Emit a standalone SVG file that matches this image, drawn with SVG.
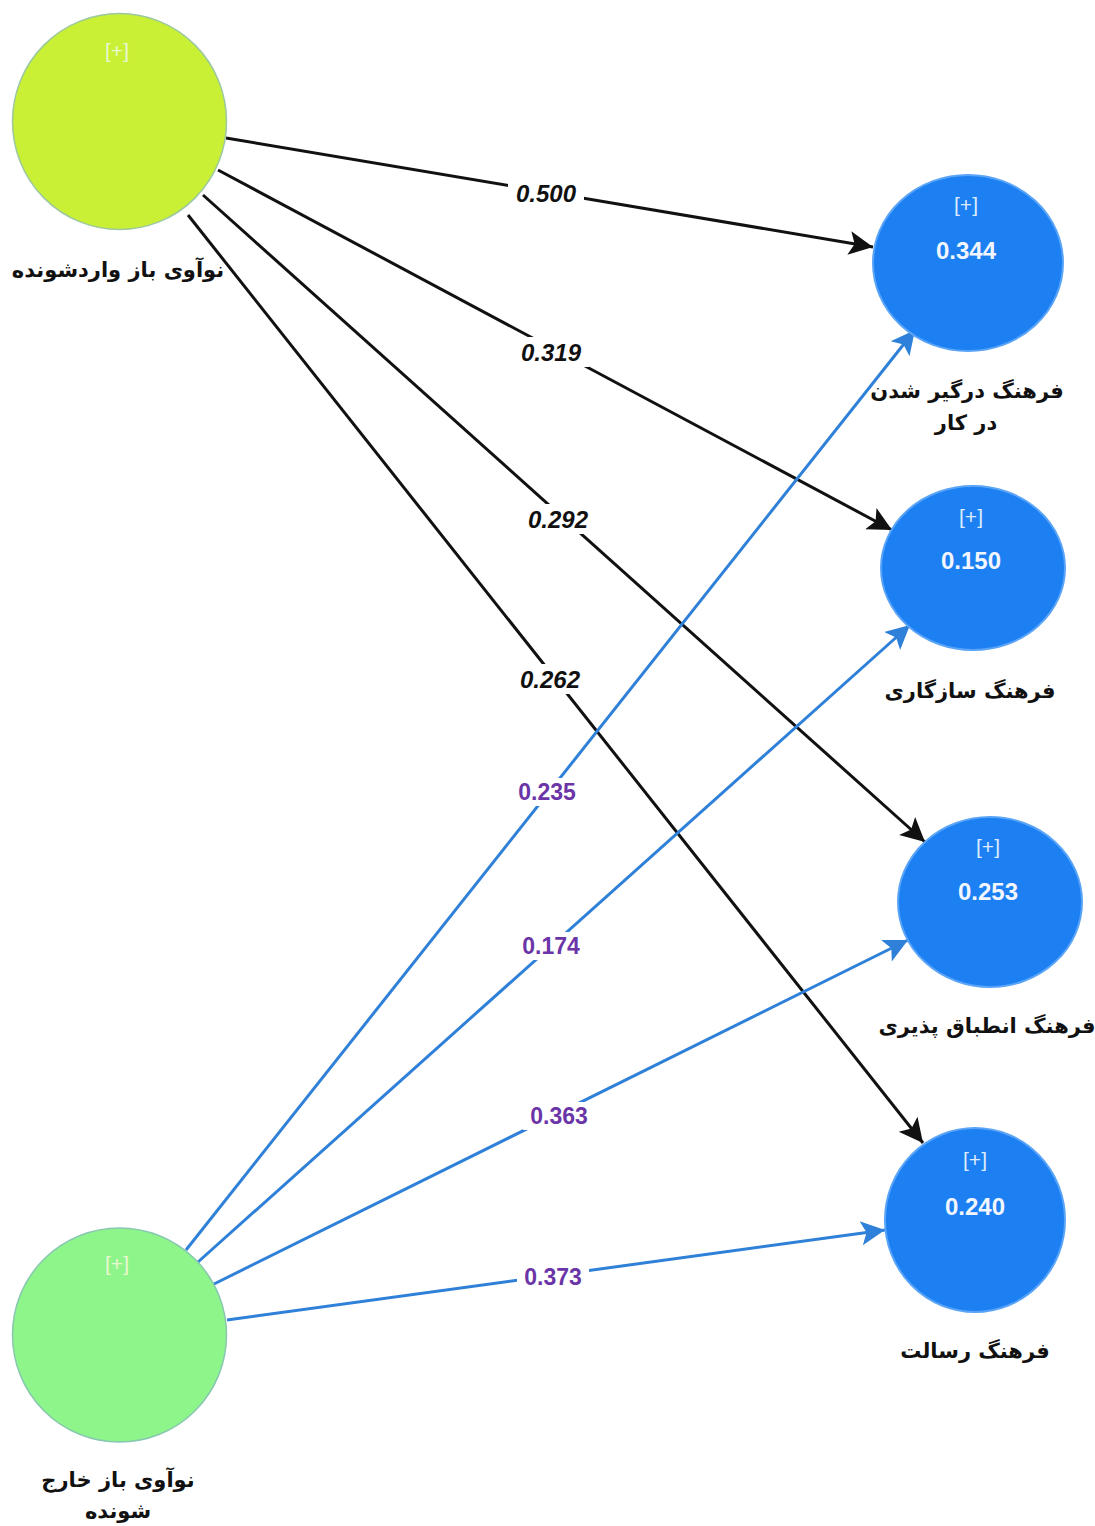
<svg xmlns="http://www.w3.org/2000/svg" width="1095" height="1526" viewBox="0 0 1095 1526">
<defs>
<style>
.blk{stroke:#111;stroke-width:3;fill:none}
.blu{stroke:#2f80d8;stroke-width:3;fill:none}
.lb{font-family:"DejaVu Sans",sans-serif;font-weight:bold;font-size:21px;fill:#111;text-anchor:middle}
.plus{font-family:"Liberation Sans",sans-serif;font-size:21px;fill:#dcebff;text-anchor:middle}
.pluss{font-family:"Liberation Sans",sans-serif;font-size:21px;fill:#eaf8d0;text-anchor:middle}
.val{font-family:"Liberation Sans",sans-serif;font-weight:bold;font-size:24px;fill:#f2f6ff;text-anchor:middle}
.bk{font-family:"Liberation Sans",sans-serif;font-weight:bold;font-style:italic;font-size:24px;fill:#111;text-anchor:middle}
.pu{font-family:"Liberation Sans",sans-serif;font-weight:bold;font-size:23px;fill:#6b35a8;text-anchor:middle}
.bg{fill:#fff}
.rn{fill:#1c7ff2;stroke:#5aa4f8;stroke-width:2}
</style>
<marker id="ab" markerWidth="9" markerHeight="9" refX="8" refY="4.5" orient="auto" markerUnits="strokeWidth">
<path d="M0,0.5 L8,4.5 L0,8.5 L1.8,4.5 Z" fill="#111"/>
</marker>
<marker id="au" markerWidth="9" markerHeight="9" refX="8" refY="4.5" orient="auto" markerUnits="strokeWidth">
<path d="M0,0.5 L8,4.5 L0,8.5 L1.8,4.5 Z" fill="#2f80d8"/>
</marker>
</defs>
<rect width="1095" height="1526" fill="#fff"/>
<g id="connectors">
<line class="blk" x1="226" y1="138" x2="873" y2="247" marker-end="url(#ab)"/>
<line class="blk" x1="218" y1="170" x2="892" y2="530" marker-end="url(#ab)"/>
<line class="blk" x1="203" y1="195" x2="925" y2="842" marker-end="url(#ab)"/>
<line class="blk" x1="188" y1="215" x2="923" y2="1143" marker-end="url(#ab)"/>
<line class="blu" x1="186" y1="1250" x2="915" y2="330" marker-end="url(#au)"/>
<line class="blu" x1="198" y1="1262" x2="910" y2="625" marker-end="url(#au)"/>
<line class="blu" x1="212" y1="1285" x2="908" y2="940" marker-end="url(#au)"/>
<line class="blu" x1="227" y1="1320" x2="885" y2="1230" marker-end="url(#au)"/>
<rect class="bg" x="508" y="178" width="76" height="30"/>
<text class="bk" x="546" y="202">0.500</text>
<rect class="bg" x="513" y="337" width="76" height="30"/>
<text class="bk" x="551" y="361">0.319</text>
<rect class="bg" x="520" y="504" width="76" height="30"/>
<text class="bk" x="558" y="528">0.292</text>
<rect class="bg" x="512" y="664" width="76" height="30"/>
<text class="bk" x="550" y="688">0.262</text>
<rect class="bg" x="511" y="778" width="72" height="28"/>
<text class="pu" x="547" y="800">0.235</text>
<rect class="bg" x="515" y="932" width="72" height="28"/>
<text class="pu" x="551" y="954">0.174</text>
<rect class="bg" x="523" y="1102" width="72" height="28"/>
<text class="pu" x="559" y="1124">0.363</text>
<rect class="bg" x="517" y="1263" width="72" height="28"/>
<text class="pu" x="553" y="1285">0.373</text>
</g>
<g id="node-in">
<ellipse cx="119.5" cy="121.5" rx="107" ry="108" fill="#c9f034" stroke="#9cc8a0" stroke-width="1.5"/>
<text class="pluss" x="117" y="58">[+]</text>
<text class="lb" x="118" y="277">نوآوی باز واردشونده</text>
</g>
<g id="node-out">
<ellipse cx="119.5" cy="1335" rx="107" ry="107" fill="#8ef58a" stroke="#88c8b0" stroke-width="1.5"/>
<text class="pluss" x="117" y="1271">[+]</text>
<text class="lb" x="118" y="1487">نوآوی باز خارج</text>
<text class="lb" x="118" y="1518">شونده</text>
</g>
<g id="node-engagement">
<ellipse class="rn" cx="968" cy="263" rx="95" ry="88"/>
<text class="plus" x="966" y="212">[+]</text>
<text class="val" x="966" y="259">0.344</text>
<text class="lb" x="967" y="398">فرهنگ درگیر شدن</text>
<text class="lb" x="966" y="430">در کار</text>
</g>
<g id="node-consistency">
<ellipse class="rn" cx="973" cy="568" rx="92" ry="82"/>
<text class="plus" x="971" y="524">[+]</text>
<text class="val" x="971" y="569">0.150</text>
<text class="lb" x="970" y="698">فرهنگ سازگاری</text>
</g>
<g id="node-adaptability">
<ellipse class="rn" cx="990" cy="902" rx="92" ry="85"/>
<text class="plus" x="988" y="854">[+]</text>
<text class="val" x="988" y="900">0.253</text>
<text class="lb" x="987" y="1033">فرهنگ انطباق پذیری</text>
</g>
<g id="node-mission">
<ellipse class="rn" cx="975" cy="1220" rx="90" ry="92"/>
<text class="plus" x="975" y="1167">[+]</text>
<text class="val" x="975" y="1215">0.240</text>
<text class="lb" x="975" y="1358">فرهنگ رسالت</text>
</g>
</svg>
